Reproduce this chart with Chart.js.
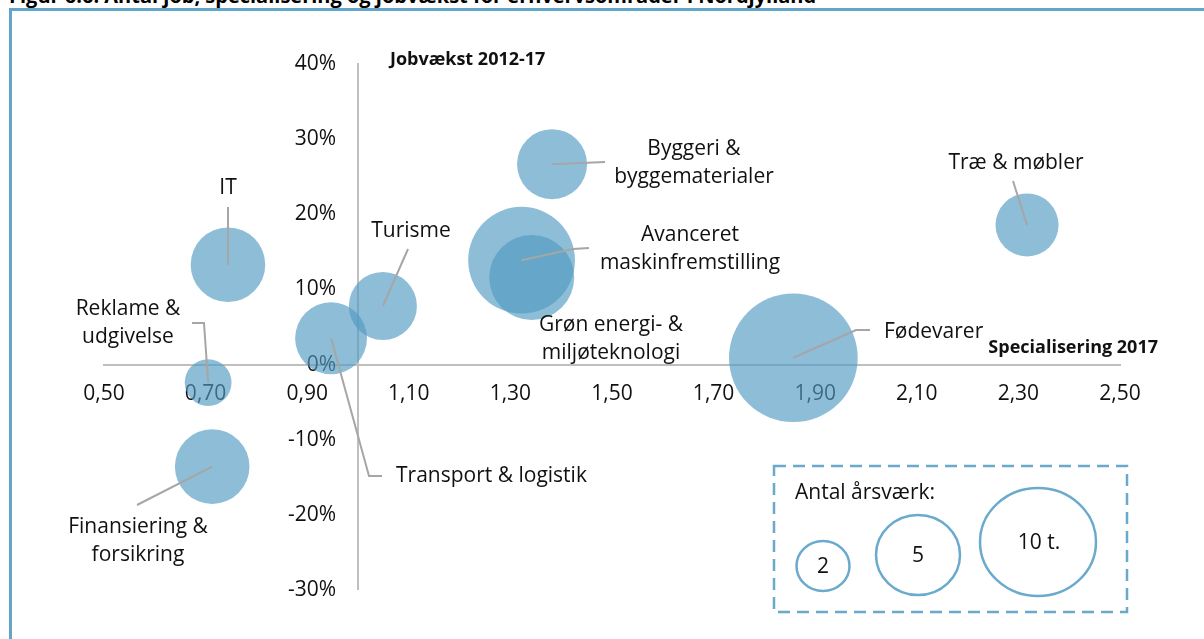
<!DOCTYPE html>
<html lang="da">
<head>
<meta charset="utf-8">
<title>Antal job, specialisering og jobvækst</title>
<script src="https://cdn.jsdelivr.net/npm/chart.js@4.4.1/dist/chart.umd.min.js"></script>
<style>
    html, body { margin: 0; padding: 0; background: #fff; }
    body { width: 1204px; height: 639px; overflow: hidden; position: relative; font-family: 'Open Sans', sans-serif; }
    #titel { position: absolute; left: 9px; top: -14px; font-size: 20px; line-height: 20px; font-weight: bold; color: #000; white-space: nowrap; }
    #ramme { position: absolute; left: 9px; top: 8px; width: 2000px; height: 2000px; border-left: 3px solid #62a5c9; border-top: 3px solid #62a5c9; }
    #graf { position: absolute; left: 0; top: 0; }
    #forklaring { position: absolute; left: 0; top: 0; pointer-events: none; }
</style>
</head>
<body>
<div id="titel">Figur 6.6: Antal job, specialisering og jobvækst for erhvervsområder i Nordjylland</div>
<div id="ramme"></div>
<canvas id="graf" width="1204" height="654"></canvas>
<svg id="forklaring" width="1204" height="639">
    <rect x="774" y="466" width="353" height="146" fill="none" stroke="#6aa9cc" stroke-width="2.5" stroke-dasharray="12 7"/>
    <text x="795" y="499" font-family="Open Sans" font-size="21" fill="#111">Antal årsværk:</text>
    <ellipse cx="823" cy="566" rx="26.5" ry="25" fill="none" stroke="#6aaacd" stroke-width="2.5"/>
    <ellipse cx="918" cy="555" rx="42" ry="40" fill="none" stroke="#6aaacd" stroke-width="2.5"/>
    <ellipse cx="1038" cy="542" rx="58" ry="54" fill="none" stroke="#6aaacd" stroke-width="2.5"/>
    <text x="823" y="573" text-anchor="middle" font-family="Open Sans" font-size="21" fill="#111">2</text>
    <text x="918" y="562" text-anchor="middle" font-family="Open Sans" font-size="21" fill="#111">5</text>
    <text x="1039" y="549" text-anchor="middle" font-family="Open Sans" font-size="21" fill="#111">10 t.</text>
</svg>
<script>
// erhvervsområder
const omraader = ['IT', 'Reklame & udgivelse', 'Finansiering & forsikring', 'Transport & logistik', 'Turisme',
    'Byggeri & byggematerialer', 'Avanceret maskinfremstilling', 'Grøn energi- & miljøteknologi', 'Fødevarer', 'Træ & møbler'];
// specialisering 2017 (x)
const specialisering = [0.744, 0.705, 0.713, 0.947, 1.049, 1.382, 1.322, 1.342, 1.857, 2.317];
// jobvækst 2012-17 (y)
const jobvaekst = [0.133, -0.024, -0.136, 0.035, 0.078, 0.267, 0.139, 0.116, 0.009, 0.186];
// antal årsværk, tusinder (boblestørrelse)
const aarsvaerk = [4.2, 1.65, 4.2, 3.9, 3.5, 3.7, 8.6, 5.45, 12.5, 3.0];

const xTicks = [0.5, 0.7, 0.9, 1.1, 1.3, 1.5, 1.7, 1.9, 2.1, 2.3, 2.5];
const yTicks = [-0.3, -0.2, -0.1, 0, 0.1, 0.2, 0.3, 0.4];

// tekster og ledelinjer (pixel), ikke data
const etiketter = [
    { tekst: ['IT'], x: 228, y: 188, align: 'center', linje: [[228, 207]] },
    { tekst: ['Reklame &', 'udgivelse'], x: 128, y: 309, align: 'center', linje: [[204, 323], [192, 323]] },
    { tekst: ['Finansiering &', 'forsikring'], x: 138, y: 527, align: 'center', linje: [[137, 505]] },
    { tekst: ['Transport & logistik'], x: 396, y: 476, align: 'left', linje: [[369, 476], [382, 476]] },
    { tekst: ['Turisme'], x: 411, y: 231, align: 'center', linje: [[408, 249]] },
    { tekst: ['Byggeri &', 'byggematerialer'], x: 694, y: 149, align: 'center', linje: [[605, 162]] },
    { tekst: ['Avanceret', 'maskinfremstilling'], x: 690, y: 235, align: 'center', linje: [[573, 249], [589, 248]] },
    { tekst: ['Grøn energi- &', 'miljøteknologi'], x: 611, y: 325, align: 'center', linje: [] },
    { tekst: ['Fødevarer'], x: 884, y: 332, align: 'left', linje: [[856, 330], [870, 330]] },
    { tekst: ['Træ & møbler'], x: 1016, y: 163, align: 'center', linje: [[1013, 181]] }
];

const radius = v => 18.2 * Math.sqrt(v);

const etiketPlugin = {
    id: 'etiketter',
    afterDatasetsDraw(chart) {
        const ctx = chart.ctx;
        const xs = chart.scales.x, ys = chart.scales.y;
        ctx.save();
        ctx.strokeStyle = '#a6a6a6';
        ctx.lineWidth = 2;
        etiketter.forEach((e, i) => {
            if (!e.linje.length) return;
            ctx.beginPath();
            ctx.moveTo(xs.getPixelForValue(specialisering[i]), ys.getPixelForValue(jobvaekst[i]));
            e.linje.forEach(p => ctx.lineTo(p[0], p[1]));
            ctx.stroke();
        });
        ctx.fillStyle = '#111';
        ctx.font = "21px 'Open Sans'";
        ctx.textBaseline = 'middle';
        etiketter.forEach(e => {
            ctx.textAlign = e.align;
            e.tekst.forEach((t, j) => ctx.fillText(t, e.x, e.y + j * 28));
        });
        // aksetitler
        ctx.font = "bold 18px 'Open Sans'";
        ctx.textAlign = 'left';
        ctx.fillText('Jobvækst 2012-17', 390, 60);
        ctx.textAlign = 'right';
        ctx.fillText('Specialisering 2017', 1158, 348);
        ctx.restore();
    }
};

Chart.defaults.font.family = "'Open Sans'";

new Chart(document.getElementById('graf').getContext('2d'), {
    type: 'bubble',
    data: {
        datasets: [{
            label: 'Erhvervsområder',
            data: omraader.map((n, i) => ({ x: specialisering[i], y: jobvaekst[i], r: radius(aarsvaerk[i]) })),
            backgroundColor: 'rgba(80, 153, 194, 0.65)',
            borderWidth: 0
        }]
    },
    options: {
        responsive: false,
        animation: false,
        events: [],
        layout: { padding: { left: 104, right: 84, top: 63, bottom: 35 } },
        plugins: { legend: { display: false }, tooltip: { enabled: false } },
        scales: {
            x: {
                type: 'linear',
                min: 0.5,
                max: 2.5,
                position: { y: 0 },
                afterBuildTicks: s => { s.ticks = xTicks.map(v => ({ value: v })); },
                ticks: {
                    padding: 17,
                    color: '#111',
                    font: { size: 21 },
                    callback: v => v.toFixed(2).replace('.', ',')
                },
                grid: { display: false, drawTicks: false },
                border: { color: '#bfbfbf', width: 2 }
            },
            y: {
                type: 'linear',
                min: -0.3,
                max: 0.4,
                position: { x: 1.0 },
                afterBuildTicks: s => { s.ticks = yTicks.map(v => ({ value: v })); },
                ticks: {
                    color: '#111',
                    font: { size: 21 },
                    callback: v => Math.round(v * 100) + '%    '
                },
                grid: { display: false, drawTicks: false },
                border: { color: '#bfbfbf', width: 2 }
            }
        }
    },
    plugins: [etiketPlugin]
});
</script>
</body>
</html>
